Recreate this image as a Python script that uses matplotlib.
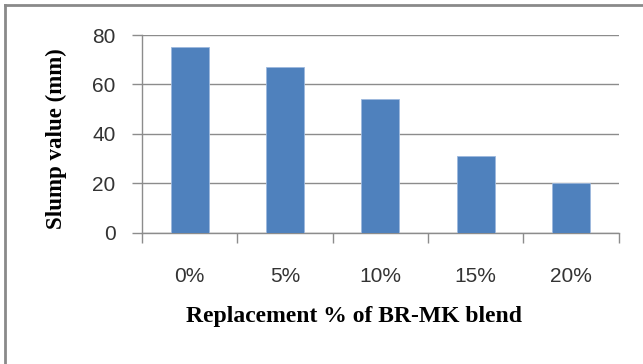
import matplotlib.pyplot as plt
import numpy as np

# slump test results for each replacement level
replacement = ['0%', '5%', '10%', '15%', '20%']
slump_mm = [75, 67, 54, 31, 20]

bar_color = '#4F81BD'
grid_color = '#8C8C8C'

fig = plt.figure(figsize=(6.43, 3.64), dpi=100)
ax = fig.add_axes([0.2208, 0.3607, 0.7414, 0.5431])

x = np.arange(len(replacement))
ax.bar(x, slump_mm, width=0.4, color=bar_color, edgecolor='#9DB9DE', linewidth=0.6, zorder=3)

ax.set_xlim(-0.5, len(replacement) - 0.5)
ax.set_ylim(0, 80)
ax.set_yticks([0, 20, 40, 60, 80])
ax.yaxis.grid(True, color=grid_color, linewidth=1.0, zorder=0)

# category labels in the middle, tick marks between categories
ax.set_xticks(x)
ax.set_xticklabels(replacement)
ax.set_xticks(np.arange(-0.5, len(replacement)), minor=True)
ax.tick_params(axis='x', which='major', length=0, pad=25)
ax.tick_params(axis='x', which='minor', length=7, width=1, color=grid_color, direction='out')
ax.tick_params(axis='y', length=7, width=1, color=grid_color, pad=12)

for lbl in ax.get_xticklabels() + ax.get_yticklabels():
    lbl.set_fontfamily('Liberation Sans')
    lbl.set_fontsize(15)
    lbl.set_color('#333333')

for side in ['top', 'right']:
    ax.spines[side].set_visible(False)
for side in ['left', 'bottom']:
    ax.spines[side].set_color(grid_color)
    ax.spines[side].set_linewidth(1.0)

fig.text(0.088, 0.62, 'Slump value (mm)', rotation=90, ha='center', va='center',
         fontfamily='Liberation Serif', fontweight='bold', fontsize=16.5)
fig.text(0.55, 0.13, 'Replacement % of BR-MK blend', ha='center', va='center',
         fontfamily='Liberation Serif', fontweight='bold', fontsize=17)

# chart area border along top and left edges
fig.add_artist(plt.Line2D([0.008, 1.0], [0.985, 0.985], transform=fig.transFigure,
                          color='#8A8A8A', linewidth=2))
fig.add_artist(plt.Line2D([0.008, 0.008], [0.0, 0.985], transform=fig.transFigure,
                          color='#8A8A8A', linewidth=2))

fig.savefig('out.png', dpi=100)
